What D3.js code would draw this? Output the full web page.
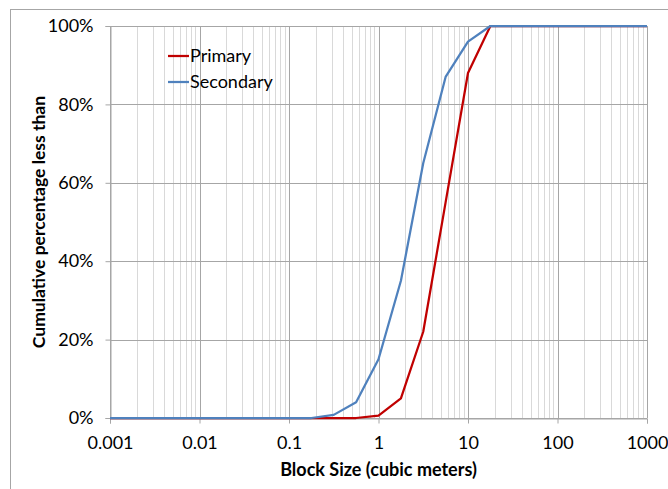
<!DOCTYPE html>
<html>
<head>
<meta charset="utf-8">
<script src="https://cdn.jsdelivr.net/npm/d3@7"></script>
<style>
  body { margin: 0; background: #fff; }
  svg { display: block; font-family: Lato, "Open Sans", sans-serif; }
</style>
</head>
<body>
<div id="chart"></div>
<script>
// block size (m^3), quarter-decade steps
const blockSizes = [0.001, 0.00178, 0.00316, 0.00562, 0.01, 0.0178, 0.0316, 0.0562,
                    0.1, 0.178, 0.316, 0.562, 1, 1.78, 3.16, 5.62, 10, 17.8, 31.6,
                    56.2, 100, 178, 316, 562, 1000];
const primary   = [0, 0, 0, 0, 0, 0, 0, 0, 0, 0, 0, 0, 0.006, 0.05, 0.22, 0.55, 0.88,
                   1, 1, 1, 1, 1, 1, 1, 1];
const secondary = [0, 0, 0, 0, 0, 0, 0, 0, 0, 0, 0.008, 0.04, 0.15, 0.35, 0.65, 0.87,
                   0.96, 1, 1, 1, 1, 1, 1, 1, 1];
const xTicks = [0.001, 0.01, 0.1, 1, 10, 100, 1000];
const yTicks = [0, 0.2, 0.4, 0.6, 0.8, 1];

const series = [
  {name: "Primary", values: primary, color: "#C00000"},
  {name: "Secondary", values: secondary, color: "#4F81BD"}
];

const W = 668, H = 489;
const plot = {left: 110, right: 647, top: 26, bottom: 418};
const labelFont = "18px";

const svg = d3.select("#chart").append("svg")
              .attr("width", W)
              .attr("height", H);

// outer chart frame (clipped by the window on the right/bottom)
svg.append("rect")
   .attr("x", 10.5).attr("y", 9.5)
   .attr("width", 700).attr("height", 520)
   .attr("fill", "none")
   .attr("stroke", "#a6a6a6");

const x = d3.scaleLog()
            .domain([0.001, 1000])
            .range([plot.left, plot.right]);

const y = d3.scaleLinear()
            .domain([0, 1])
            .range([plot.bottom, plot.top]);

// minor vertical gridlines (2..9 of each decade)
const minor = [];
xTicks.slice(0, -1).forEach(d => {
  for (let k = 2; k <= 9; k++) minor.push(d * k);
});

svg.append("g")
   .selectAll("line")
   .data(minor)
   .enter()
   .append("line")
   .attr("x1", d => Math.round(x(d)) + 0.5)
   .attr("x2", d => Math.round(x(d)) + 0.5)
   .attr("y1", plot.top)
   .attr("y2", plot.bottom)
   .attr("stroke", "#d9d9d9");

// major vertical gridlines
svg.append("g")
   .selectAll("line")
   .data(xTicks)
   .enter()
   .append("line")
   .attr("x1", d => Math.round(x(d)) + 0.5)
   .attr("x2", d => Math.round(x(d)) + 0.5)
   .attr("y1", plot.top)
   .attr("y2", plot.bottom)
   .attr("stroke", "#a6a6a6");

// horizontal gridlines
svg.append("g")
   .selectAll("line")
   .data(yTicks)
   .enter()
   .append("line")
   .attr("x1", plot.left)
   .attr("x2", plot.right)
   .attr("y1", d => Math.round(y(d)) + 0.5)
   .attr("y2", d => Math.round(y(d)) + 0.5)
   .attr("stroke", "#a6a6a6");

// axes
const xAxis = d3.axisBottom(x)
                .tickValues(xTicks)
                .tickSize(5)
                .tickPadding(13)
                .tickFormat(d => d3.format("~g")(d));

svg.append("g")
   .attr("transform", "translate(0," + (Math.round(plot.bottom) + 0.5) + ")")
   .call(xAxis)
   .call(g => g.select(".domain").attr("stroke", "#a6a6a6"))
   .call(g => g.selectAll(".tick line").attr("stroke", "#a6a6a6"))
   .call(g => g.selectAll("text")
               .attr("fill", "#000")
               .style("font-size", labelFont)
               .style("font-family", "Lato, 'Open Sans', sans-serif"));

const yAxis = d3.axisLeft(y)
                .tickValues(yTicks)
                .tickSize(5)
                .tickPadding(12)
                .tickFormat(d3.format(".0%"));

svg.append("g")
   .attr("transform", "translate(" + (plot.left + 0.5) + ",0)")
   .call(yAxis)
   .call(g => g.select(".domain").attr("stroke", "#a6a6a6"))
   .call(g => g.selectAll(".tick line").attr("stroke", "#a6a6a6"))
   .call(g => g.selectAll("text")
               .attr("fill", "#000")
               .style("font-size", labelFont)
               .style("font-family", "Lato, 'Open Sans', sans-serif"));

// lines
const line = d3.line()
               .x((d, i) => x(blockSizes[i]))
               .y(d => y(d));

svg.append("g")
   .selectAll("path")
   .data(series)
   .enter()
   .append("path")
   .attr("d", d => line(d.values))
   .attr("fill", "none")
   .attr("stroke", d => d.color)
   .attr("stroke-width", 2.25)
   .attr("stroke-linejoin", "round");

// legend
const legend = svg.append("g");
series.forEach((s, i) => {
  const ly = 56 + i * 26;
  legend.append("line")
        .attr("x1", 168).attr("x2", 189)
        .attr("y1", ly).attr("y2", ly)
        .attr("stroke", s.color)
        .attr("stroke-width", 2.25);
  legend.append("text")
        .attr("x", 190)
        .attr("y", ly)
        .attr("dy", "0.35em")
        .style("font-size", labelFont)
        .text(s.name);
});

// axis titles
svg.append("text")
   .attr("x", (plot.left + plot.right) / 2)
   .attr("y", 476)
   .attr("text-anchor", "middle")
   .style("font-size", "18px")
   .style("font-weight", "bold")
   .text("Block Size (cubic meters)");

svg.append("text")
   .attr("transform", "translate(45," + ((plot.top + plot.bottom) / 2) + ") rotate(-90)")
   .attr("text-anchor", "middle")
   .style("font-size", "17.5px")
   .style("font-weight", "bold")
   .text("Cumulative percentage less than");
</script>
</body>
</html>
